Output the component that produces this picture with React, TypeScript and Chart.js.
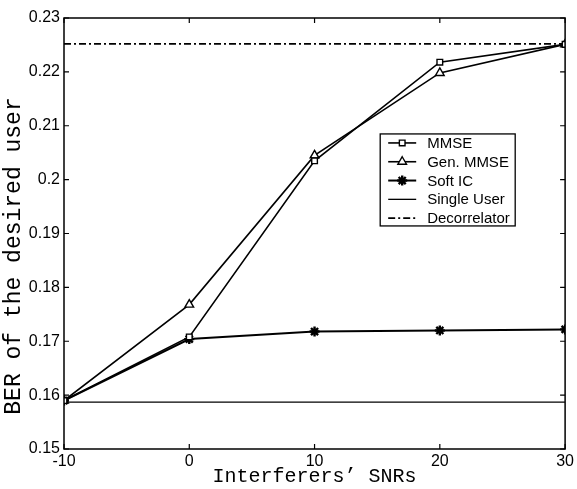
import React, { useEffect, useRef } from "react";
import { Chart, registerables } from "chart.js";
import { drawPoint } from "chart.js/helpers";

Chart.register(...registerables);

const xValues = [-10, 0, 10, 20, 30];
const mmse = [0.159, 0.1708, 0.2035, 0.2218, 0.2251];
const genMmse = [0.159, 0.1768, 0.2045, 0.2198, 0.2251];
const softIC = [0.159, 0.1704, 0.1718, 0.172, 0.1722];
const singleUser = [0.1587, 0.1587, 0.1587, 0.1587, 0.1587];
const decorrelator = [0.2252, 0.2252, 0.2252, 0.2252, 0.2252];
const seriesNames = ["MMSE", "Gen. MMSE", "Soft IC", "Single User", "Decorrelator"];
const yTicks = [0.15, 0.16, 0.17, 0.18, 0.19, 0.2, 0.21, 0.22, 0.23];
const xTicks = [-10, 0, 10, 20, 30];
const xTitle = "Interferers\u2019 SNRs";
const yTitle = "BER of the desired user";

const toPts = (ys: number[]) => xValues.map((x, i) => ({ x, y: ys[i] }));

const framePlugin = {
  id: "frameTicks",
  afterDatasetsDraw(chart: any) {
    const { ctx, chartArea: ca, scales } = chart;
    const xs = scales.x;
    const ys = scales.y;
    ctx.save();
    ctx.strokeStyle = "#000";
    ctx.lineWidth = 1.5;
    ctx.strokeRect(ca.left, ca.top, ca.right - ca.left, ca.bottom - ca.top);
    const tl = 5;
    ctx.lineWidth = 1.2;
    ctx.beginPath();
    xTicks.forEach((v) => {
      const px = xs.getPixelForValue(v);
      ctx.moveTo(px, ca.bottom);
      ctx.lineTo(px, ca.bottom - tl);
      ctx.moveTo(px, ca.top);
      ctx.lineTo(px, ca.top + tl);
    });
    yTicks.forEach((v) => {
      const py = ys.getPixelForValue(v);
      ctx.moveTo(ca.left, py);
      ctx.lineTo(ca.left + tl, py);
      ctx.moveTo(ca.right, py);
      ctx.lineTo(ca.right - tl, py);
    });
    ctx.stroke();
    // y axis title
    ctx.fillStyle = "#000";
    ctx.font = "23px 'Liberation Mono', 'Courier New', monospace";
    ctx.textAlign = "center";
    ctx.textBaseline = "middle";
    ctx.translate(14, 256);
    ctx.rotate(-Math.PI / 2);
    ctx.fillText(yTitle, 0, 0);
    ctx.restore();
  },
};

const legendPlugin = {
  id: "boxLegend",
  afterDraw(chart: any) {
    const { ctx, chartArea: ca } = chart;
    const w = ca.right - ca.left;
    const h = ca.bottom - ca.top;
    const bx = ca.left + w * 0.631;
    const by = ca.top + h * 0.269;
    const bw = 135;
    const bh = 92;
    ctx.save();
    ctx.fillStyle = "#fff";
    ctx.fillRect(bx, by, bw, bh);
    ctx.strokeStyle = "#000";
    ctx.lineWidth = 1.3;
    ctx.strokeRect(bx, by, bw, bh);
    const rowH = 18.8;
    chart.data.datasets.forEach((ds: any, i: number) => {
      const cy = by + 9 + i * rowH;
      const lx0 = bx + 8;
      const lx1 = bx + 36;
      ctx.strokeStyle = "#000";
      ctx.lineWidth = ds.borderWidth;
      ctx.setLineDash(ds.borderDash || []);
      ctx.beginPath();
      ctx.moveTo(lx0, cy);
      ctx.lineTo(lx1, cy);
      ctx.stroke();
      ctx.setLineDash([]);
      if (ds.pointRadius > 0) {
        ctx.lineWidth = ds.pointBorderWidth;
        ctx.fillStyle = ds.pointBackgroundColor;
        ctx.strokeStyle = "#000";
        drawPoint(ctx, { pointStyle: ds.pointStyle, radius: ds.pointRadius, borderWidth: ds.pointBorderWidth, rotation: 0 } as any, (lx0 + lx1) / 2, cy);
      }
      ctx.fillStyle = "#000";
      ctx.font = "15px 'Liberation Sans', Arial, sans-serif";
      ctx.textBaseline = "middle";
      ctx.textAlign = "left";
      ctx.fillText(ds.label, bx + 47, cy + 1);
    });
    ctx.restore();
  },
};

export default function App() {
  const ref = useRef<HTMLCanvasElement>(null);
  useEffect(() => {
    const canvas = ref.current;
    if (!canvas) return;
    const common = { borderColor: "#000", pointBorderColor: "#000", showLine: true, fill: false };
    const chart = new Chart(canvas, {
      type: "scatter",
      data: {
        datasets: [
          { ...common, label: seriesNames[0], data: toPts(mmse), borderWidth: 1.6, pointStyle: "rect", pointRadius: 4, pointBorderWidth: 1.4, pointBackgroundColor: "#fff" },
          { ...common, label: seriesNames[1], data: toPts(genMmse), borderWidth: 1.6, pointStyle: "triangle", pointRadius: 5, pointBorderWidth: 1.4, pointBackgroundColor: "#fff" },
          { ...common, label: seriesNames[2], data: toPts(softIC), borderWidth: 2, pointStyle: "star", pointRadius: 5, pointBorderWidth: 2.4, pointBackgroundColor: "#000" },
          { ...common, label: seriesNames[3], data: toPts(singleUser), borderWidth: 1.3, pointRadius: 0, pointBorderWidth: 0, pointBackgroundColor: "#000" },
          { ...common, label: seriesNames[4], data: toPts(decorrelator), borderWidth: 1.6, borderDash: [7, 3, 2, 3], pointRadius: 0, pointBorderWidth: 0, pointBackgroundColor: "#000" },
        ] as any,
      },
      options: {
        responsive: false,
        animation: false,
        layout: { padding: { left: 0, top: 18, right: 9, bottom: 0 } },
        plugins: { legend: { display: false }, tooltip: { enabled: false } },
        scales: {
          x: {
            type: "linear",
            min: -10,
            max: 30,
            afterFit: (s: any) => { s.height = 40; },
            afterBuildTicks: (s: any) => { s.ticks = xTicks.map((v) => ({ value: v })); },
            grid: { display: false, drawTicks: false },
            border: { display: false },
            ticks: { color: "#000", padding: 3, font: { family: "'Liberation Sans', Arial, sans-serif", size: 16 } },
            title: { display: true, text: xTitle, color: "#000", padding: { top: 0, bottom: 0 }, font: { family: "'Liberation Mono', 'Courier New', monospace", size: 20 } },
          },
          y: {
            type: "linear",
            min: 0.15,
            max: 0.23,
            afterFit: (s: any) => { s.width = 64; },
            afterBuildTicks: (s: any) => { s.ticks = yTicks.map((v) => ({ value: v })); },
            grid: { display: false, drawTicks: false },
            border: { display: false },
            ticks: { color: "#000", padding: 4, font: { family: "'Liberation Sans', Arial, sans-serif", size: 16 }, callback: (v: any) => String(Math.round(Number(v) * 100) / 100) },
            title: { display: false },
          },
        },
      } as any,
      plugins: [framePlugin, legendPlugin],
    });
    return () => chart.destroy();
  }, []);
  return (
    <div style={{ position: "absolute", left: 0, top: 0, width: 577, height: 489, background: "#fff" }}>
      <canvas ref={ref} width={577} height={489} style={{ display: "block" }} />
    </div>
  );
}
